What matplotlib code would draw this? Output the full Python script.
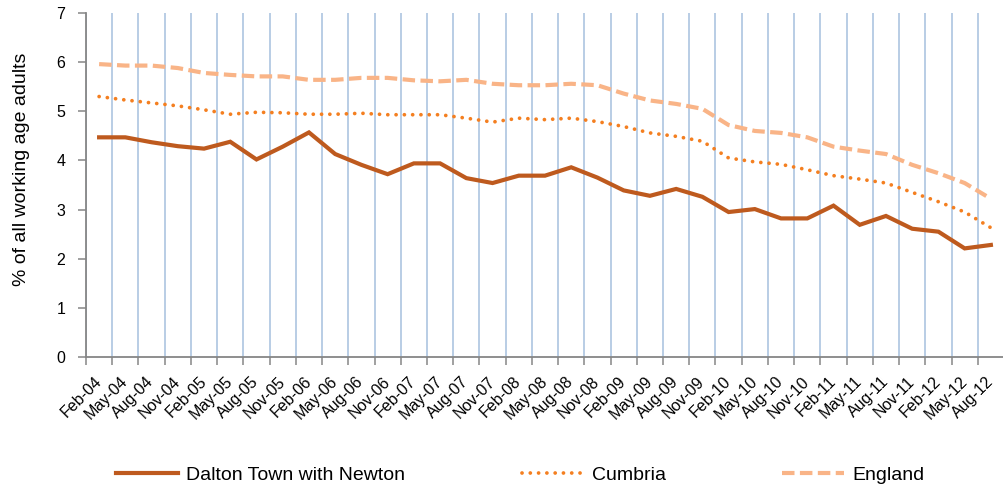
import matplotlib
matplotlib.use("Agg")
import matplotlib.pyplot as plt
import numpy as np

plt.rcParams['font.family'] = ['Liberation Sans', 'DejaVu Sans']

# quarterly labels Feb-04 .. Aug-12
quarters = []
for yr in range(4, 13):
    for m in ['Feb', 'May', 'Aug', 'Nov']:
        quarters.append('%s-%02d' % (m, yr))
quarters = quarters[:35]

dalton = [4.47, 4.47, 4.37, 4.29, 4.24, 4.38, 4.02, 4.28, 4.57, 4.13,
          3.91, 3.72, 3.94, 3.94, 3.64, 3.54, 3.69, 3.69, 3.86, 3.65,
          3.39, 3.28, 3.42, 3.26, 2.95, 3.01, 2.82, 2.82, 3.08, 2.69,
          2.87, 2.61, 2.55, 2.21, 2.28]
cumbria = [5.30, 5.23, 5.17, 5.11, 5.03, 4.94, 4.98, 4.97, 4.94, 4.94,
           4.96, 4.93, 4.93, 4.93, 4.86, 4.78, 4.86, 4.83, 4.86, 4.79,
           4.69, 4.56, 4.49, 4.39, 4.05, 3.97, 3.92, 3.81, 3.69, 3.62,
           3.54, 3.35, 3.16, 2.95, 2.63]
england = [5.96, 5.93, 5.93, 5.88, 5.78, 5.74, 5.71, 5.71, 5.64, 5.64,
           5.68, 5.68, 5.63, 5.61, 5.64, 5.56, 5.53, 5.53, 5.56, 5.53,
           5.36, 5.22, 5.15, 5.05, 4.72, 4.60, 4.56, 4.47, 4.28, 4.20,
           4.13, 3.91, 3.74, 3.54, 3.22]

x = np.arange(len(quarters))

fig = plt.figure(figsize=(10.04, 4.88), dpi=100)
ax = fig.add_axes([86/1004, 1 - 357/488, 1 - 86/1004, (357 - 13)/488])

ax.plot(x, dalton, color='#BE5A1E', lw=3.0, solid_joinstyle='miter',
        label='Dalton Town with Newton', zorder=3)
ax.plot(x, cumbria, color='#F47F20', lw=2.7, linestyle=(0, (0.01, 2.2)),
        dash_capstyle='round', label='Cumbria', zorder=3)
ax.plot(x, england, color='#F9B487', lw=3.0, linestyle=(0, (3.0, 1.3)),
        label='England', zorder=3)

ax.set_xlim(-0.5, 34.37)
ax.set_ylim(0, 7)
ax.set_yticks(range(0, 8))

# tick marks between categories, labels at the categories
ax.set_xticks(np.arange(-0.5, 35, 1.0))
ax.set_xticklabels([])
ax.set_xticks(x, minor=True)
ax.set_xticklabels(quarters, minor=True, rotation=45, ha='right',
                   va='center', rotation_mode='anchor', fontsize=11.5)
ax.tick_params(axis='x', which='minor', length=0, pad=16)
ax.tick_params(axis='x', which='major', length=6, width=1.1, color='#868686')
ax.tick_params(axis='y', length=6, width=1.1, color='#868686', labelsize=11.5, pad=9)

ax.grid(axis='x', which='major', color='#B9CDE5', lw=1.4, zorder=0)
for s in ['top', 'right']:
    ax.spines[s].set_visible(False)
for s in ['left', 'bottom']:
    ax.spines[s].set_color('#868686')
    ax.spines[s].set_linewidth(1.3)

ax.set_ylabel('% of all working age adults', fontsize=14)
ax.yaxis.set_label_coords(-0.061, 0.545)

fig.legend(loc='center', bbox_to_anchor=(0.518, 1 - 475/488), ncol=3,
           frameon=False, fontsize=14, handlelength=3.2, handletextpad=0.4,
           columnspacing=6.0)

fig.savefig('out.png', dpi=100)
